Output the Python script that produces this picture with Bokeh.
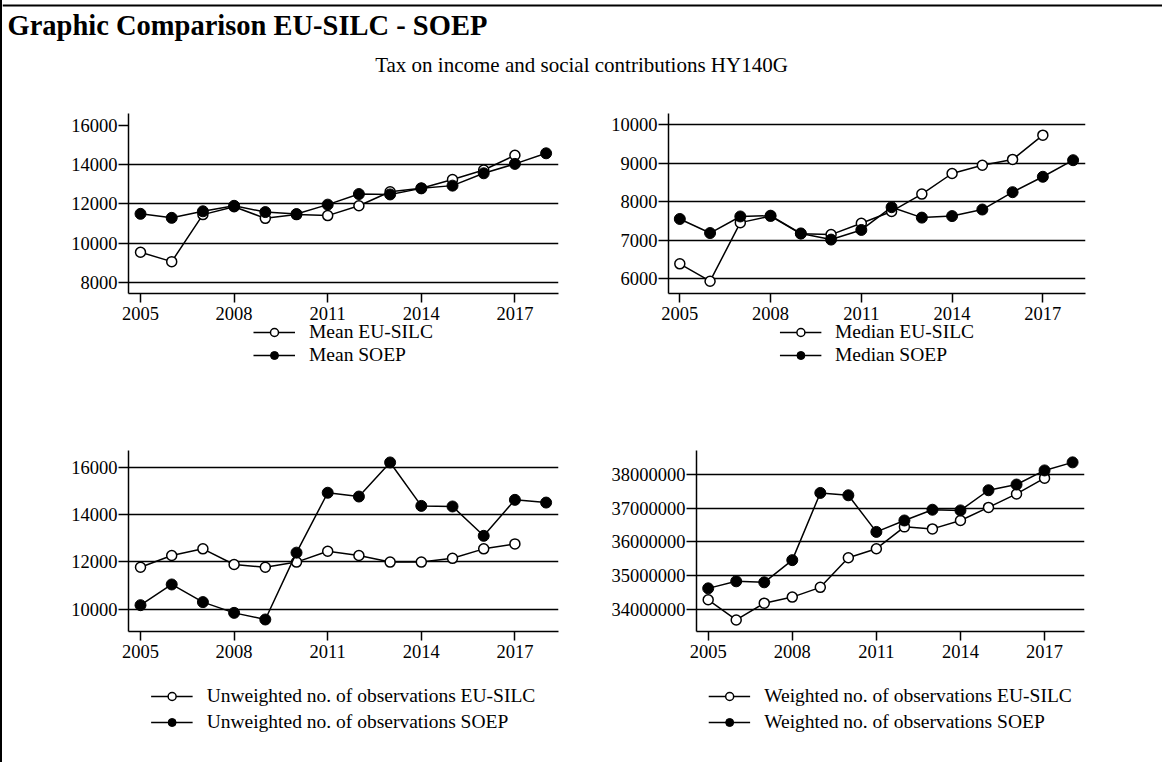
from bokeh.plotting import figure
from bokeh.layouts import column, row
from bokeh.models import Range1d, FixedTicker, Legend, LegendItem, Label, BasicTickFormatter, Span
from bokeh.embed import file_html
from bokeh.resources import INLINE

# ---------------- data ----------------
years_silc = list(range(2005, 2018))
years_soep = list(range(2005, 2019))
x_ticks = [2005, 2008, 2011, 2014, 2017]

mean_silc = [9530, 9050, 11450, 11850, 11260, 11450, 11400, 11900, 12620, 12800, 13240, 13730, 14480]
mean_soep = [11490, 11285, 11620, 11900, 11580, 11480, 11960, 12500, 12480, 12790, 12930, 13560, 14040, 14580]

median_silc = [6390, 5940, 7460, 7630, 7170, 7150, 7445, 7750, 8200, 8735, 8950, 9100, 9730]
median_soep = [7555, 7190, 7620, 7640, 7180, 7020, 7270, 7860, 7590, 7630, 7800, 8250, 8650, 9080]

unw_silc = [11770, 12270, 12550, 11890, 11770, 11990, 12450, 12270, 11990, 11990, 12150, 12550, 12760]
unw_soep = [10170, 11045, 10300, 9845, 9565, 12390, 14920, 14760, 16200, 14365, 14340, 13100, 14620, 14505]

w_silc = [34280000, 33680000, 34180000, 34360000, 34650000, 35530000, 35800000, 36450000,
          36390000, 36640000, 37030000, 37430000, 37900000]
w_soep = [34620000, 34830000, 34800000, 35460000, 37460000, 37390000, 36300000, 36640000,
          36960000, 36940000, 37540000, 37710000, 38130000, 38370000]

title_text = "Graphic Comparison EU-SILC - SOEP"
subtitle_text = "Tax on income and social contributions HY140G"

FONT = "Liberation Serif"
TICK_FS = "18.5px"
LEG_FS = "19.5px"

SILC_LINE = dict(line_color="black", line_width=1.5)
SILC_MARK = dict(marker="circle", size=10, fill_color="white", line_color="black", line_width=1.5)
SOEP_LINE = dict(line_color="black", line_width=1.5)
SOEP_MARK = dict(marker="circle", size=11, fill_color="black", line_color="black", line_width=1)

NAN = float("nan")


def panel(width, height, borders, xr, yr, yticks, gridticks, silc, soep):
    bl, br, bt, bb = borders
    p = figure(width=width, height=height, x_range=Range1d(*xr), y_range=Range1d(*yr),
               output_backend="svg", toolbar_location=None, title=None,
               min_border_left=bl, min_border_right=br, min_border_top=bt, min_border_bottom=bb)
    p.outline_line_color = None
    p.xaxis.ticker = FixedTicker(ticks=x_ticks)
    p.yaxis.ticker = FixedTicker(ticks=yticks)
    p.yaxis.formatter = BasicTickFormatter(use_scientific=False)
    p.xgrid.visible = False
    p.ygrid.ticker = FixedTicker(ticks=gridticks)
    p.ygrid.grid_line_color = "black"
    p.ygrid.grid_line_width = 1.4
    for ax in (p.xaxis[0], p.yaxis[0]):
        ax.axis_line_color = "black"
        ax.axis_line_width = 1.5
        ax.major_tick_line_color = "black"
        ax.major_tick_line_width = 1.5
        ax.major_tick_in = 0
        ax.minor_tick_line_color = None
        ax.major_label_text_font = FONT
        ax.major_label_text_font_size = TICK_FS
        ax.major_label_text_color = "black"
    p.xaxis[0].major_tick_out = 9
    p.xaxis[0].major_label_standoff = 4
    p.yaxis[0].major_tick_out = 10
    p.yaxis[0].major_label_standoff = 1

    p.line(years_silc, silc, **SILC_LINE)
    p.scatter(years_silc, silc, **SILC_MARK)
    p.line(years_soep, soep, **SOEP_LINE)
    p.scatter(years_soep, soep, **SOEP_MARK)
    return p


def legend_fig(width, height, bl, br, top, labels, spacing):
    f = figure(width=width, height=height, output_backend="svg", toolbar_location=None,
               title=None, x_axis_type=None, y_axis_type=None,
               x_range=Range1d(0, 1), y_range=Range1d(0, 1),
               min_border_left=bl, min_border_right=br, min_border_top=top, min_border_bottom=0)
    f.outline_line_color = None
    f.grid.visible = False
    f.background_fill_alpha = 0
    f.border_fill_alpha = 0
    # legend proxies: a single missing value, so nothing is drawn in the frame
    l1 = f.line([NAN], [NAN], **SILC_LINE)
    s1 = f.scatter([NAN], [NAN], **SILC_MARK)
    l2 = f.line([NAN], [NAN], **SOEP_LINE)
    s2 = f.scatter([NAN], [NAN], **SOEP_MARK)
    leg = Legend(items=[LegendItem(label=labels[0], renderers=[l1, s1]),
                        LegendItem(label=labels[1], renderers=[l2, s2])],
                 location="top_center", border_line_color=None, background_fill_alpha=0,
                 glyph_width=42, glyph_height=20, label_height=20, label_standoff=14,
                 spacing=spacing, padding=0, margin=0, label_text_font=FONT,
                 label_text_font_size=LEG_FS, label_text_color="black")
    f.add_layout(leg)
    return f


# header
hdr = figure(width=1160, height=100, x_range=Range1d(0, 1160), y_range=Range1d(0, 100),
             output_backend="svg", toolbar_location=None, x_axis_type=None, y_axis_type=None,
             min_border=0, title=None)
hdr.outline_line_color = None
hdr.grid.visible = False
hdr.add_layout(Span(location=95, dimension="width", line_color="black", line_width=2))
hdr.add_layout(Label(x=5, y=75, x_units="screen", y_units="screen", text=title_text,
                     text_font=FONT, text_font_size="28.5px", text_font_style="bold",
                     text_color="black", text_baseline="middle"))
hdr.add_layout(Label(x=579, y=36, x_units="screen", y_units="screen", text=subtitle_text,
                     text_font=FONT, text_font_size="21px", text_align="center",
                     text_color="black", text_baseline="middle"))

p1 = panel(579, 237, (126, 23, 13, 44), (2004.615, 2018.397), (7423, 16612),
           [8000, 10000, 12000, 14000, 16000], [8000, 10000, 12000, 14000],
           mean_silc, mean_soep)
p2 = panel(579, 237, (87, 75, 13, 44), (2004.626, 2018.41), (5621, 10292),
           [6000, 7000, 8000, 9000, 10000], [6000, 7000, 8000, 9000, 10000],
           median_silc, median_soep)
g1 = legend_fig(579, 69, 126, 23, 0, ["Mean EU-SILC", "Mean SOEP"], 1)
g2 = legend_fig(579, 69, 87, 75, 0, ["Median EU-SILC", "Median SOEP"], 1)

p3 = panel(579, 285, (126, 23, 60, 44), (2004.615, 2018.397), (9058, 16705),
           [10000, 12000, 14000, 16000], [10000, 12000, 14000, 16000],
           unw_silc, unw_soep)
p4 = panel(579, 285, (115, 76, 60, 44), (2004.583, 2018.425), (33336000, 38723000),
           [34000000, 35000000, 36000000, 37000000, 38000000],
           [34000000, 35000000, 36000000, 37000000, 38000000],
           w_silc, w_soep)
g3 = legend_fig(579, 87, 126, 23, 10,
                ["Unweighted no. of observations EU-SILC", "Unweighted no. of observations SOEP"], 4)
g4 = legend_fig(579, 87, 115, 76, 10,
                ["Weighted no. of observations EU-SILC", "Weighted no. of observations SOEP"], 4)

layout = column(hdr,
                row(p1, p2, spacing=0),
                row(g1, g2, spacing=0, styles={"margin-top": "-16px"}),
                row(p3, p4, spacing=0),
                row(g3, g4, spacing=0),
                spacing=0, styles={"border-left": "2px solid black"})

html = file_html(layout, INLINE, title="Graphic Comparison EU-SILC - SOEP")
open("out.html", "w").write(html)
